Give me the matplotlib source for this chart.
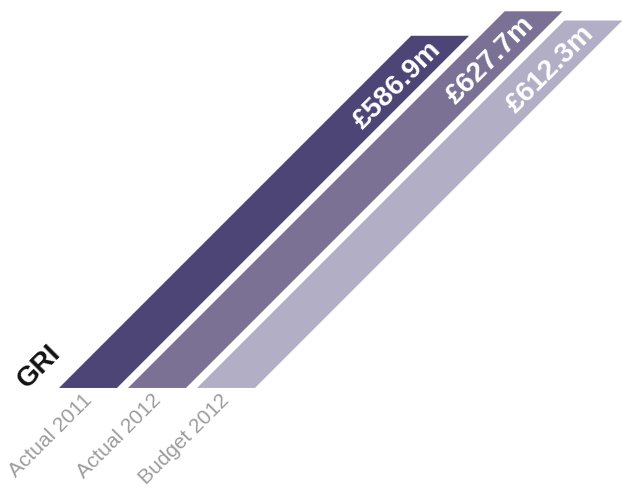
"""Slanted bar chart of GRI: actual vs budget."""
import matplotlib.pyplot as plt
from matplotlib.transforms import Affine2D

plt.rcParams.update({"font.family": ["Liberation Sans", "DejaVu Sans"]})

categories = ["Actual 2011", "Actual 2012", "Budget 2012"]
values = [586.9, 627.7, 612.3]
value_labels = ["£586.9m", "£627.7m", "£612.3m"]
colors = ["#4d4575", "#7b7195", "#b2aec6"]

fig = plt.figure(figsize=(6.22, 4.88), dpi=100)
ax = fig.add_axes([0, 0.205, 1, 0.787])
ax.set_xlim(-1.275, 7.74)
ax.set_ylim(0, 640)
ax.axis("off")

# shear everything 45 degrees about the baseline (in display space)
base_y = ax.transData.transform((0, 0))[1]
shear = Affine2D().translate(0, -base_y).skew_deg(45, 0).translate(0, base_y)
slant = ax.transData + shear

x = list(range(len(categories)))
bars = ax.bar(x, values, width=0.84, color=colors, linewidth=0)
for b in bars:
    b.set_transform(slant)
    b.set_clip_on(False)

for i, (v, lab) in enumerate(zip(values, value_labels)):
    ax.text(i + 0.09, v - 16, lab, transform=slant, rotation=45,
            rotation_mode="anchor", ha="right", va="center",
            color="white", fontsize=20.5, fontweight="bold")

for i, cat in enumerate(categories):
    ax.text(i + 0.01, -15, cat, rotation=45, rotation_mode="anchor",
            ha="right", va="center", color="#9c9c9c", fontsize=15,
            clip_on=False)

ax.text(-0.71, 35, "GRI", rotation=45, rotation_mode="anchor",
        ha="center", va="center", color="#111111", fontsize=20,
        fontweight="bold")

fig.savefig("out.png", dpi=100, facecolor="white")
